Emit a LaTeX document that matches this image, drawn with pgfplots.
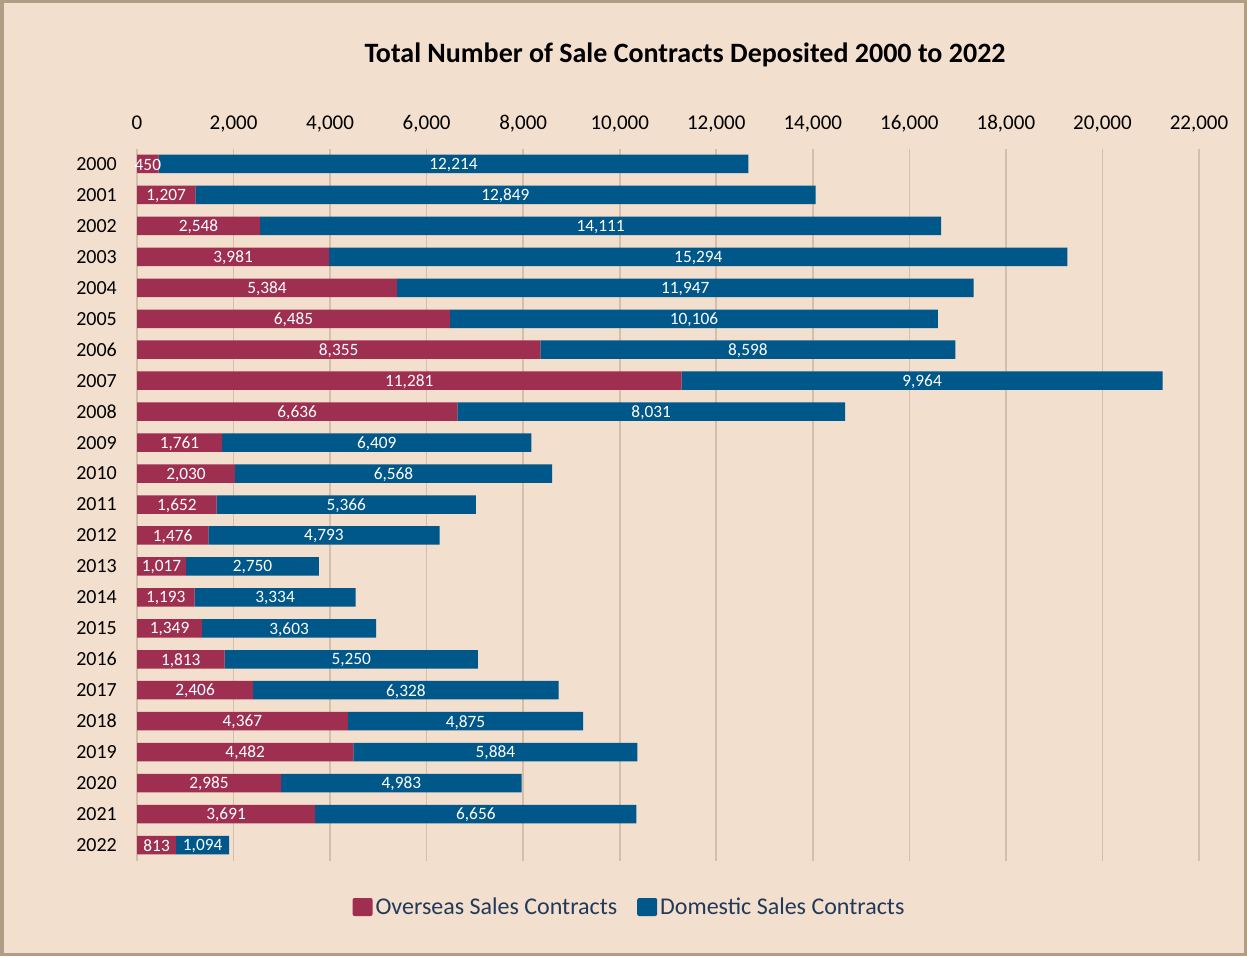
\documentclass[border=0pt]{standalone}
\usepackage{pgfplots}
\pgfplotsset{compat=1.18}
\usepackage{pgfplotstable}
\usepackage{fontspec}
\setmainfont{Carlito}
\definecolor{bgc}{HTML}{F2DFCE}
\definecolor{bord}{HTML}{B19D86}
\definecolor{gridc}{HTML}{D3BFAB}
\definecolor{over}{HTML}{9E2F50}
\definecolor{dom}{HTML}{00578A}
\definecolor{legc}{HTML}{22395A}
\pgfplotstableread{
i o d
0 450 12214
1 1207 12849
2 2548 14111
3 3981 15294
4 5384 11947
5 6485 10106
6 8355 8598
7 11281 9964
8 6636 8031
9 1761 6409
10 2030 6568
11 1652 5366
12 1476 4793
13 1017 2750
14 1193 3334
15 1349 3603
16 1813 5250
17 2406 6328
18 4367 4875
19 4482 5884
20 2985 4983
21 3691 6656
22 813 1094
}\data
\begin{document}
\begin{tikzpicture}[x=1pt,y=1pt]
\useasboundingbox (0,0) rectangle (1247,956);
\fill[bgc] (0,0) rectangle (1247,956);
\draw[bord, line width=3.5pt] (1.75,1.75) rectangle (1245.25,954.25);
\node[font=\fontsize{28}{32}\selectfont\bfseries, anchor=center] at (685,901) {Total Number of Sale Contracts Deposited 2000 to 2022};
\begin{axis}[
  at={(137pt,95.5pt)}, anchor=south west,
  scale only axis, width=1062pt, height=712pt,
  xbar stacked, bar width=18.5pt,
  xmin=0, xmax=22000, ymin=-0.5, ymax=22.5, y dir=reverse,
  axis line style={draw=none},
  major tick length=0pt,
  xtick={0,2000,...,22000},
  scaled x ticks=false,
  xticklabel pos=upper,
  xmajorgrids, grid style={gridc, line width=1.6pt},
  xticklabel style={font=\fontsize{21}{24}\selectfont, anchor=base, inner sep=0pt, yshift=19.5pt,
     /pgf/number format/1000 sep={,}, /pgf/number format/assume math mode=true},
  ytick={0,...,22},
  yticklabel={\pgfmathparse{int(2000+\tick)}\pgfmathresult},
  yticklabel style={font=\fontsize{20}{23}\selectfont, anchor=east, inner sep=0pt, xshift=-20pt},
  legend columns=2,
  legend style={draw=none, fill=none, at={(0.4628,-0.0653)}, anchor=center,
     font=\fontsize{24}{27}\selectfont, text=legc,
     /tikz/every even column/.append style={column sep=20pt},
     /tikz/every odd column/.append style={column sep=3pt},
     nodes={inner sep=0pt}},
  legend image code/.code={\fill[#1, rounded corners=2pt] (0pt,-9pt) rectangle (20pt,9pt);},
]
\addplot[fill=over, draw=none] table[x=o, y=i] {\data};
\addplot[fill=dom, draw=none] table[x=d, y=i] {\data};
\legend{Overseas Sales Contracts, Domestic Sales Contracts}
\end{axis}
\begin{axis}[
  at={(137pt,95.5pt)}, anchor=south west,
  scale only axis, width=1062pt, height=712pt,
  xmin=0, xmax=22000, ymin=-0.5, ymax=22.5, y dir=reverse,
  hide axis,
  nodes near coords,
  point meta=explicit,
  every node near coord/.style={anchor=center, text=white, inner sep=0pt, yshift=-1pt,
     font=\fontsize{17.3}{20}\selectfont,
     /pgf/number format/1000 sep={,}, /pgf/number format/assume math mode=true},
]
\addplot[draw=none, mark=none] table[x expr=\thisrow{o}/2, y=i, meta=o] {\data};
\addplot[draw=none, mark=none] table[x expr=\thisrow{o}+\thisrow{d}/2, y=i, meta=d] {\data};
\end{axis}
\end{tikzpicture}
\end{document}
